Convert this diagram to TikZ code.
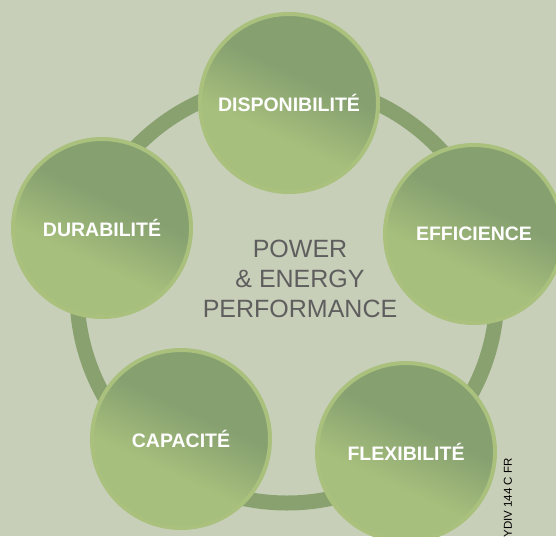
\documentclass[tikz,border=0pt]{standalone}
\usepackage{tikz}
\usepackage{fontspec}
\setmainfont{Liberation Sans}
\usetikzlibrary{positioning}

\definecolor{fond}{HTML}{C8CFB9}
\definecolor{anneau}{HTML}{88A16F}
\definecolor{clair}{HTML}{A7BF7C}
\definecolor{fonce}{HTML}{86A070}
\definecolor{bord}{HTML}{A9C17D}
\definecolor{gris}{HTML}{5E5E5E}

\pgfdeclareverticalshading{boule}{100bp}{color(0bp)=(clair); color(25bp)=(clair); color(40bp)=(clair); color(58bp)=(fonce); color(75bp)=(fonce); color(100bp)=(fonce)}

\tikzset{bulle/.style={circle, minimum size=178pt, inner sep=0pt, draw=bord, line width=4pt, shade, shading=boule, shading angle=-25, text=white, font=\bfseries\fontsize{19.5}{23}\selectfont}}

\begin{document}
\begin{tikzpicture}[x=1pt, y=-1pt]

\fill[fond] (0,0) rectangle (556,536); %fond
\useasboundingbox (0,0) rectangle (556,536);

\coordinate (milieu) at (287,293);
\draw[anneau, line width=15pt] (milieu) circle[radius=210pt]; %anneau

\node[bulle] (dispo) at (289,103) {DISPONIBILITÉ};
\node[bulle] (effi) at (474,234) {EFFICIENCE};
\node[bulle] (flexi) at (406,452) {FLEXIBILITÉ};
\node[bulle] (capa) at (181,439) {CAPACITÉ};
\node[bulle] (dura) at (102,228) {DURABILITÉ};

\node[text=gris, align=center, font=\fontsize{25}{30}\selectfont] (titre) at (300,279) {POWER\\ \& ENERGY\\ PERFORMANCE}; %centre

\node[rotate=90, anchor=east, inner sep=0pt, font=\fontsize{11.5}{13}\selectfont] (code) at (508,458) {YDIV 144 C FR};

\end{tikzpicture}
\end{document}
